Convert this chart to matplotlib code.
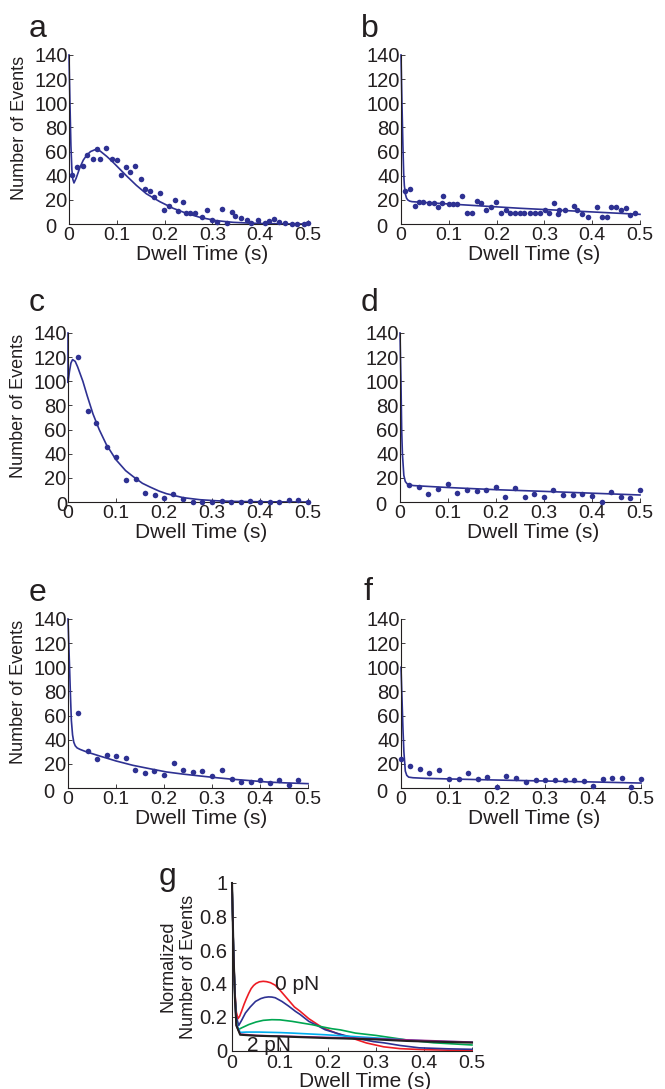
import matplotlib
matplotlib.use("Agg")
import matplotlib.pyplot as plt

plt.rcParams['font.family'] = ['Liberation Sans', 'DejaVu Sans']
TXT = '#231f20'
DOT = '#2e3192'

# ---------------- data: panels a-f (points and fitted curves) ----------------
xa = [0.0056, 0.017, 0.0286, 0.038, 0.05, 0.059, 0.065, 0.078, 0.089, 0.1, 0.109, 0.119,
      0.128, 0.139, 0.15, 0.159, 0.17, 0.178, 0.19, 0.199, 0.21, 0.221, 0.229, 0.238, 0.244,
      0.254, 0.263, 0.279, 0.289, 0.299, 0.31, 0.32, 0.33, 0.342, 0.348, 0.36, 0.373, 0.381,
      0.395, 0.41, 0.418, 0.428, 0.44, 0.451, 0.467, 0.478, 0.491, 0.5]
ya = [40.6, 47, 48, 57, 54, 62, 54, 63, 54, 53, 40.6, 47, 43, 48, 37, 29, 27, 22, 26, 12,
      15, 20, 11, 18, 9.4, 8.8, 8.8, 5.5, 12, 3.3, 1.4, 12.4, 1.1, 9.7, 6.6, 4.7, 3.3, 0.6,
      3.3, 1.1, 2.5, 4.1, 1.4, 1.1, 0, 0, 0, 0.8]
fxa = [0, 0.002, 0.004, 0.006, 0.008, 0.0104, 0.015, 0.023, 0.03, 0.037, 0.045, 0.054, 0.065,
       0.079, 0.09, 0.1, 0.12, 0.141, 0.162, 0.19, 0.218, 0.246, 0.274, 0.308, 0.343, 0.38,
       0.413, 0.45, 0.5]
fya = [140, 100, 65, 45, 37, 34, 38, 47, 53, 57, 60, 61.5, 60.5, 56, 52, 48, 40, 32, 25,
       18.5, 13, 8.8, 5.5, 2.8, 1.4, 0.7, 0.3, 0.1, 0]

xb = [0.009, 0.0195, 0.029, 0.038, 0.047, 0.0585, 0.069, 0.078, 0.085, 0.088, 0.1, 0.109,
      0.118, 0.128, 0.139, 0.149, 0.158, 0.168, 0.177, 0.189, 0.199, 0.209, 0.219, 0.228,
      0.239, 0.249, 0.258, 0.27, 0.28, 0.29, 0.301, 0.309, 0.32, 0.329, 0.331, 0.344, 0.361,
      0.369, 0.379, 0.391, 0.409, 0.421, 0.432, 0.439, 0.45, 0.461, 0.47, 0.479, 0.49]
yb = [27.6, 29.3, 15.2, 18.5, 18.5, 17.7, 17.7, 14.4, 17.7, 23, 16.6, 16.6, 16.6, 23, 9.4,
      9.4, 18.8, 17, 11.6, 13.8, 18, 9.4, 11.6, 9.4, 9.4, 9.4, 9.4, 9.4, 9.4, 9.4, 11.6, 9.4,
      17, 8, 12, 11.6, 15.2, 11.6, 8, 5.5, 14.4, 5.8, 5.8, 13.8, 14, 11.6, 13, 7.5, 9.4]
fxb = [0, 0.002, 0.004, 0.0056, 0.007, 0.009, 0.0115, 0.014, 0.018, 0.023, 0.05, 0.1, 0.15,
       0.2, 0.25, 0.3, 0.35, 0.4, 0.45, 0.5]
fyb = [140, 100, 65, 42, 32, 25, 21.5, 20, 19, 18.5, 17.8, 16.6, 15.4, 14.2, 13, 12, 11, 10,
       9, 8]

xc = [0.021, 0.041, 0.059, 0.081, 0.1, 0.12, 0.141, 0.161, 0.181, 0.2, 0.219, 0.24, 0.26,
      0.28, 0.3, 0.32, 0.34, 0.36, 0.38, 0.4, 0.42, 0.44, 0.46, 0.48, 0.5]
yc = [120.4, 75.4, 65.2, 45.3, 37.6, 18.5, 19.3, 7.5, 5.8, 3.3, 6.4, 2.5, 0, 0, 0, 0.8, 0,
      0, 1.1, 0, 0, 0, 1.4, 1.4, 0]
fxc = [0, 0, 0.003, 0.006, 0.0095, 0.015, 0.02, 0.031, 0.04, 0.052, 0.065, 0.08, 0.1, 0.12,
       0.136, 0.155, 0.171, 0.19, 0.205, 0.24, 0.275, 0.31, 0.345, 0.4, 0.5]
fyc = [140, 99, 108, 115, 118, 116.5, 112, 100, 88, 73, 60, 47.5, 35, 26, 21, 15.5, 12.4, 9,
       6.9, 3.6, 1.9, 1, 0.5, 0.2, 0]

xd = [0.019, 0.039, 0.059, 0.08, 0.099, 0.119, 0.139, 0.16, 0.18, 0.2, 0.219, 0.24, 0.26,
      0.28, 0.3, 0.319, 0.34, 0.36, 0.38, 0.401, 0.42, 0.44, 0.46, 0.479, 0.5]
yd = [14.4, 12.7, 6.9, 10.8, 14.6, 7.7, 9.7, 8.8, 10.2, 12.7, 4.1, 11.3, 3.9, 6.6, 3.9, 10.2,
      5.5, 5.8, 6.6, 4.7, 0, 8, 4.4, 3.3, 9.7]
fxd = [0, 0.002, 0.0035, 0.005, 0.008, 0.011, 0.015, 0.02, 0.028, 0.05, 0.1, 0.2, 0.3, 0.4,
       0.5]
fyd = [140, 100, 60, 40, 22, 17, 15, 14.2, 13.6, 13.1, 12, 10.2, 8.8, 7.3, 5.8]

xe = [0.0215, 0.041, 0.06, 0.081, 0.1, 0.12, 0.14, 0.16, 0.179, 0.2, 0.22, 0.24, 0.26, 0.28,
      0.3, 0.32, 0.341, 0.361, 0.381, 0.401, 0.421, 0.44, 0.46, 0.48]
ye = [62, 30.4, 24, 27.6, 26.5, 25.1, 14.9, 12.4, 14.1, 11, 20.7, 14.6, 13, 14.4, 10.2, 14.6,
      7.2, 5.2, 5.2, 6.6, 4.1, 6.4, 2.8, 6.4]
fxe = [0, 0.002, 0.0035, 0.005, 0.007, 0.0095, 0.012, 0.015, 0.019, 0.025, 0.038, 0.066, 0.1,
       0.135, 0.17, 0.205, 0.24, 0.274, 0.31, 0.344, 0.38, 0.413, 0.45, 0.5]
fye = [140, 115, 97, 78, 56, 44, 38, 35, 33.2, 32, 30, 26.5, 22.4, 18.8, 16, 13.3, 11.5, 10,
       8.5, 7.2, 6.1, 5, 4.3, 3.6]

xf = [0, 0.0195, 0.039, 0.059, 0.079, 0.099, 0.12, 0.139, 0.16, 0.179, 0.2, 0.219, 0.24,
      0.26, 0.281, 0.301, 0.321, 0.341, 0.36, 0.381, 0.401, 0.42, 0.44, 0.46, 0.48, 0.5]
yf = [24.3, 18.2, 15.5, 12.2, 14.6, 7.7, 7.7, 12.4, 7.7, 9.1, 0.8, 10, 8, 5.2, 6.4, 6.4, 6.4,
      6.9, 6.9, 5.8, 1.9, 7.2, 8, 8, 1.1, 7.7]
fxf = [0, 0.002, 0.004, 0.006, 0.009, 0.012, 0.016, 0.025, 0.05, 0.1, 0.2, 0.3, 0.4, 0.5]
fyf = [100, 75, 50, 30, 14, 10.5, 9, 8.5, 8, 7.5, 6.6, 5.8, 5, 4.1]

# ---------------- data: panel g (normalized fitted curves) ----------------
gx_red = [0, 0.003, 0.006, 0.009, 0.0125, 0.016, 0.02, 0.025, 0.03, 0.035, 0.04, 0.045, 0.05,
          0.057, 0.065, 0.072, 0.08, 0.09, 0.1, 0.115, 0.13, 0.142, 0.16, 0.1875, 0.22, 0.25,
          0.28, 0.316, 0.35, 0.4, 0.45, 0.5]
gy_red = [1, 0.6, 0.35, 0.23, 0.19, 0.205, 0.235, 0.275, 0.31, 0.342, 0.37, 0.388, 0.4,
          0.41, 0.413, 0.411, 0.405, 0.39, 0.36, 0.31, 0.26, 0.234, 0.19, 0.138, 0.1, 0.074,
          0.045, 0.022, 0.011, 0.005, 0.002, 0.001]
gx_blue = [0, 0.003, 0.006, 0.009, 0.014, 0.02, 0.028, 0.038, 0.049, 0.06, 0.068, 0.076,
           0.083, 0.09, 0.104, 0.118, 0.132, 0.142, 0.16, 0.177, 0.194, 0.229, 0.257, 0.295,
           0.316, 0.35, 0.39, 0.45, 0.5]
gy_blue = [1, 0.6, 0.35, 0.2, 0.15, 0.18, 0.224, 0.26, 0.293, 0.31, 0.317, 0.32, 0.319,
           0.315, 0.293, 0.265, 0.234, 0.215, 0.174, 0.15, 0.124, 0.094, 0.074, 0.053, 0.046,
           0.03, 0.016, 0.01, 0.007]
gx_green = [0, 0.003, 0.006, 0.009, 0.0125, 0.02, 0.035, 0.05, 0.065, 0.083, 0.1, 0.125,
            0.15, 0.167, 0.19, 0.208, 0.226, 0.257, 0.3, 0.364, 0.42, 0.5]
gy_green = [1, 0.6, 0.33, 0.17, 0.124, 0.135, 0.155, 0.17, 0.18, 0.184, 0.183, 0.174, 0.162,
            0.154, 0.14, 0.13, 0.123, 0.104, 0.09, 0.063, 0.046, 0.033]
gx_cyan = [0, 0.003, 0.006, 0.009, 0.017, 0.03, 0.056, 0.1, 0.125, 0.194, 0.25, 0.3, 0.364,
           0.42, 0.5]
gy_cyan = [1, 0.6, 0.33, 0.16, 0.108, 0.11, 0.11, 0.107, 0.104, 0.094, 0.084, 0.075, 0.063,
           0.055, 0.05]
gx_mag = [0, 0.003, 0.006, 0.009, 0.017, 0.05, 0.1, 0.2, 0.3, 0.4, 0.5]
gy_mag = [1, 0.6, 0.32, 0.15, 0.098, 0.09, 0.086, 0.078, 0.07, 0.06, 0.05]
gx_blk = [0, 0.003, 0.006, 0.009, 0.017, 0.05, 0.1, 0.2, 0.23, 0.3, 0.364, 0.4, 0.5]
gy_blk = [1, 0.6, 0.32, 0.15, 0.094, 0.088, 0.084, 0.074, 0.072, 0.066, 0.057, 0.054, 0.047]

xticks = [0, 0.1, 0.2, 0.3, 0.4, 0.5]
xticklabels = ['0', '0.1', '0.2', '0.3', '0.4', '0.5']
yticks = [0, 20, 40, 60, 80, 100, 120, 140]
yticklabels = ['0', '20', '40', '60', '80', '100', '120', '140']
gyticks = [0, 0.2, 0.4, 0.6, 0.8, 1]
gyticklabels = ['0', '0.2', '0.4', '0.6', '0.8', '1']

# ---------------- figure ----------------
W, H = 665, 1089
fig = plt.figure(figsize=(W / 100, H / 100), dpi=100)
YTICKFS = 14.5
XTICKFS = 14


def px_axes(left, top, right, bottom):
    return fig.add_axes([left / W, 1 - bottom / H, (right - left) / W, (bottom - top) / H])


def style(ax, ylab_pad=1.0, xlab_pad=2.5):
    for s in ('top', 'right'):
        ax.spines[s].set_visible(False)
    for s in ('left', 'bottom'):
        ax.spines[s].set_color(TXT)
        ax.spines[s].set_linewidth(0.8)
    ax.tick_params(direction='in', length=3, width=0.6, colors=TXT)
    ax.tick_params(axis='y', pad=ylab_pad, labelsize=YTICKFS)
    ax.tick_params(axis='x', pad=xlab_pad, labelsize=XTICKFS)
    ax.set_xlim(0, 0.5)
    ax.set_xticks(xticks)
    ax.set_xticklabels(xticklabels)


panels = [
    ('a', (69, 55, 308, 224), xa, ya, fxa, fya, True, (29, 37), -12),
    ('b', (401, 55, 640, 224), xb, yb, fxb, fyb, False, (361, 37), -13),
    ('c', (68, 333, 308, 502), xc, yc, fxc, fyc, True, (29, 311), 0),
    ('d', (400, 333, 640, 502), xd, yd, fxd, fyd, False, (361, 311), -13),
    ('e', (68, 619, 308, 788), xe, ye, fxe, fye, True, (29, 601), -13),
    ('f', (401, 619, 641, 788), xf, yf, fxf, fyf, False, (364, 600), -13),
]

for lab, (l, t, r, b), px, py, fx, fy, ylab, (lx, ly), zdx in panels:
    ax = px_axes(l, t, r, b)
    style(ax)
    ax.plot(fx, fy, color=DOT, lw=1.2, clip_on=False, zorder=2)
    ax.plot(px, py, 'o', color=DOT, ms=4, mec='none', clip_on=False, zorder=3)
    ax.set_ylim(0, 140)
    ax.set_yticks(yticks)
    ax.set_yticklabels([''] + yticklabels[1:])
    # the "0" of the y axis sits apart from the other tick labels in the reference
    ax.annotate(yticklabels[0], xy=(0, 0), xycoords='data', xytext=(zdx - 1, -4),
                textcoords='offset pixels', ha='right', va='center',
                fontsize=YTICKFS, color=TXT, annotation_clip=False)
    ax.set_xlabel('Dwell Time (s)', fontsize=15, color=TXT)
    ax.xaxis.set_label_coords(0.555, -0.127)
    if ylab:
        ax.set_ylabel('Number of Events', fontsize=13, color=TXT)
        ax.yaxis.set_label_coords(-0.17, 0.57)
    fig.text(lx / W, 1 - ly / H, lab, fontsize=23, color=TXT, ha='left', va='baseline')

# panel g
axg = px_axes(232, 883, 472, 1050.5)
style(axg, ylab_pad=3.5, xlab_pad=3.0)
axg.set_ylim(0, 1)
axg.set_yticks(gyticks)
axg.set_yticklabels(gyticklabels)
lw = 1.2
axg.plot(gx_red, gy_red, color='#ed1c24', lw=lw, clip_on=False)
axg.plot(gx_blue, gy_blue, color='#2e3192', lw=lw, clip_on=False)
axg.plot(gx_green, gy_green, color='#00a651', lw=lw, clip_on=False)
axg.plot(gx_cyan, gy_cyan, color='#00aeef', lw=lw, clip_on=False)
axg.plot(gx_mag, gy_mag, color='#a3238e', lw=lw, clip_on=False)
axg.plot(gx_blk, gy_blk, color='#231f20', lw=1.5, clip_on=False)
axg.text(0.09, 0.36, '0 pN', fontsize=15, color=TXT, ha='left', va='baseline')
axg.text(0.032, -0.005, '2 pN', fontsize=15, color=TXT, ha='left', va='baseline')
axg.set_xlabel('Dwell Time (s)', fontsize=15, color=TXT)
axg.xaxis.set_label_coords(0.554, -0.128)
axg.set_ylabel('Normalized\nNumber of Events', fontsize=13, color=TXT, linespacing=1.3)
axg.yaxis.set_label_coords(-0.146, 0.5)
fig.text(159 / W, 1 - 885 / H, 'g', fontsize=23, color=TXT, ha='left', va='baseline')

fig.savefig('out.png', dpi=100)
